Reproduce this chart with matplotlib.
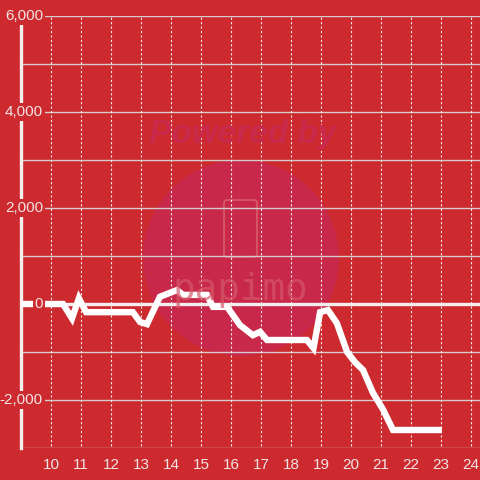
import numpy as np
import matplotlib.pyplot as plt
from matplotlib.patches import Circle, FancyBboxPatch
from matplotlib.transforms import blended_transform_factory

# -- Data (hour of day, running balance) --
hours = [9.0, 10.4, 10.7, 10.93, 11.17, 12.73, 12.97, 13.2, 13.63, 14.2,
         14.4, 15.2, 15.4, 15.87, 16.3, 16.73, 16.97, 17.2, 18.53, 18.75,
         18.97, 19.23, 19.53, 19.87, 20.13, 20.4, 20.73, 21.07, 21.4, 23.03]
balance = [0, 0, -300, 120, -170, -170, -375, -420, 150, 290,
           190, 190, -60, -60, -440, -650, -580, -750, -750, -920,
           -170, -125, -400, -1000, -1210, -1375, -1850, -2200, -2625, -2625]

x_ticks = list(range(10, 25))
y_ticks = [-2000, 0, 2000, 4000, 6000]
y_grid = list(range(-3000, 7000, 1000))

BG = "#cc2a2e"
FG = "#f2e4e4"
GRID = "#d4cccc"

plt.rcParams["font.family"] = ["Liberation Sans", "DejaVu Sans"]

fig = plt.figure(figsize=(4.8, 4.8), dpi=100, facecolor=BG)
ax = fig.add_axes([21/480, 32/480, 459/480, 432/480])
ax.set_facecolor(BG)
ax.set_xlim(9, 9 + 459/30)
ax.set_ylim(-3000, 6000)

# watermark
ax.add_patch(Circle((241, 480 - 258), 98, transform=None,
                    facecolor="#c8284a", edgecolor="none", zorder=0))
ax.add_patch(FancyBboxPatch((224, 480 - 257), 33, 57, transform=None,
                            boxstyle="round,pad=0,rounding_size=3",
                            facecolor="none", edgecolor="#d65868",
                            lw=1.3, zorder=0))
fig.text(243/480, 1 - 134/480, "Powered by", ha="center", va="center",
         fontsize=24, fontweight="bold", style="italic", color="#c9294a",
         zorder=0)
fig.text(240/480, 1 - 290/480, "papimo", ha="center", va="center",
         fontsize=27, color="#d65868", alpha=0.7, zorder=0,
         family="DejaVu Sans Mono")

# grid
for v in y_grid:
    if v == 0:
        continue
    ax.axhline(v, color=GRID, lw=1, zorder=1)
for h in x_ticks:
    ax.plot([h, h], [-2950, 6000], color="white", lw=0.8, ls=(0, (2, 2)),
            zorder=1, alpha=0.9)
ax.axhline(0, color="#f4eeee", lw=2.4, zorder=2)

ax.plot(hours, balance, color="white", lw=4.6, solid_joinstyle="miter",
        solid_capstyle="butt", zorder=3)

for s in ["top", "right", "bottom"]:
    ax.spines[s].set_visible(False)
ax.spines["left"].set_color("#f4eeee")
ax.spines["left"].set_linewidth(2.4)
ax.spines["left"].set_bounds(-3000, 5850)

ax.set_yticks([])
ax.set_xticks(x_ticks)
ax.tick_params(axis="x", length=0, colors=FG, labelsize=11, pad=7)

trans = blended_transform_factory(fig.transFigure, ax.transData)
for v in y_ticks:
    ax.text(43/480, v, f"{v:,}", transform=trans, ha="right", va="center",
            color=FG, fontsize=11, zorder=4,
            bbox=dict(facecolor=BG, edgecolor="none", pad=1.2))

fig.savefig("out.png", dpi=100, facecolor=BG)
